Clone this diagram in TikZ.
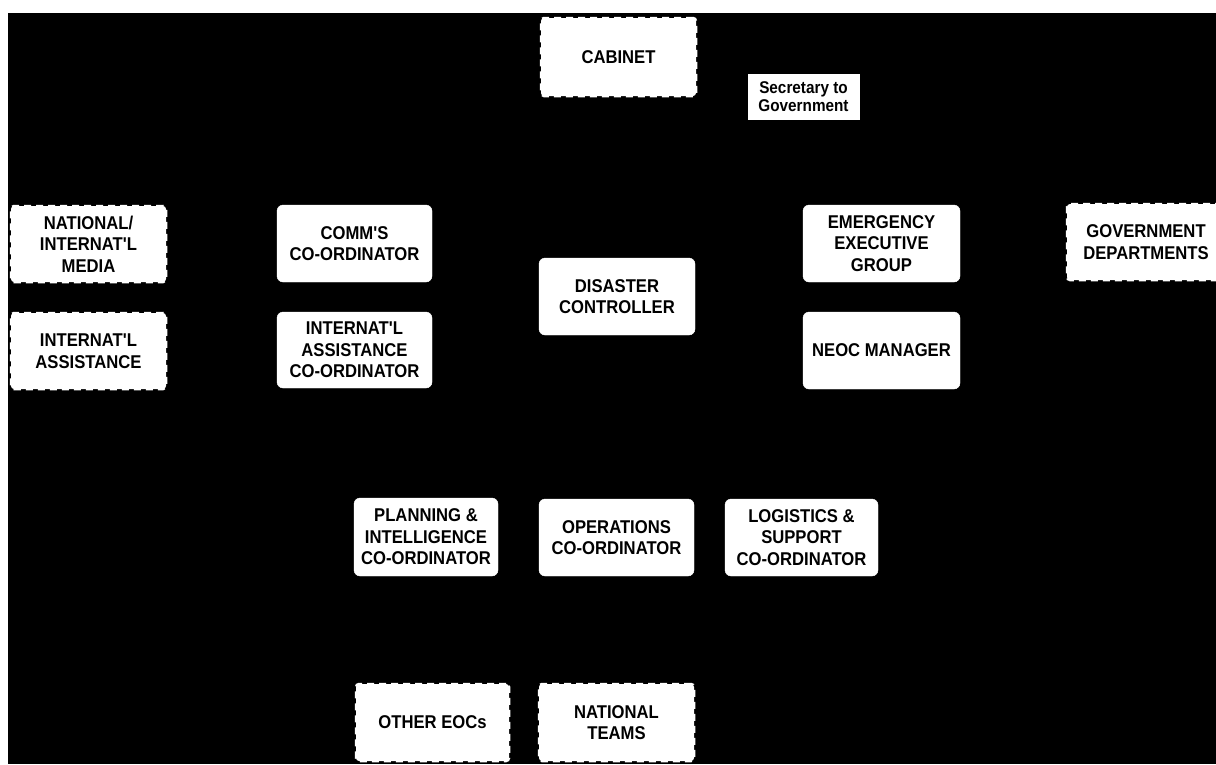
\documentclass[tikz,border=0pt]{standalone}
\usepackage{fontspec}
\setmainfont{Liberation Sans}
\newfontfamily\boxfont[FakeStretch=0.9]{Liberation Sans Bold}
\begin{document}
\begin{tikzpicture}[x=1pt,y=-1pt,
  solidbox/.style={fill=white, draw=white, rounded corners=6pt, align=center,
    font=\boxfont\fontsize{18.5}{21.5}\selectfont, inner sep=0pt, text=black},
  dashbox/.style={fill=white, draw=white, line width=2.5pt, dash pattern=on 7pt off 5pt,
    rounded corners=3pt, align=center,
    font=\boxfont\fontsize{18.5}{21.5}\selectfont, inner sep=0pt, text=black},
  smallbox/.style={fill=white, draw=white, align=center, inner sep=0pt,
    font=\boxfont\fontsize{17}{18}\selectfont, text=black}]
\useasboundingbox (0,0) rectangle (1216,764);
\fill[white] (0,0) rectangle (1216,764);
\fill[black] (8,13) rectangle (1216,764);

\node[dashbox, minimum width=155pt, minimum height=78pt] (cabinet) at (618.5,57) {CABINET};
\node[smallbox, minimum width=111pt, minimum height=45pt] (sec) at (803.5,96.5) {Secretary to\\Government};

\node[dashbox, minimum width=155pt, minimum height=76pt] (media) at (88.5,244) {NATIONAL/\\INTERNAT'L\\MEDIA};
\node[dashbox, minimum width=155pt, minimum height=76pt] (intassist) at (88.5,351) {INTERNAT'L\\ASSISTANCE};

\node[solidbox, minimum width=155pt, minimum height=77pt] (comms) at (354.5,243.5) {COMM'S\\CO-ORDINATOR};
\node[solidbox, minimum width=155pt, minimum height=76pt] (iac) at (354.5,350) {INTERNAT'L\\ASSISTANCE\\CO-ORDINATOR};

\node[solidbox, minimum width=157pt, minimum height=77pt] (eeg) at (881.5,243.5) {EMERGENCY\\EXECUTIVE\\GROUP};
\node[solidbox, minimum width=157pt, minimum height=77pt] (neoc) at (881.5,350.5) {NEOC MANAGER};

\node[dashbox, minimum width=158pt, minimum height=76pt] (govdep) at (1146,242) {GOVERNMENT\\DEPARTMENTS};

\node[solidbox, minimum width=156pt, minimum height=77pt] (disaster) at (617,296.5) {DISASTER\\CONTROLLER};

\node[solidbox, minimum width=144pt, minimum height=78pt] (planning) at (426,537) {PLANNING \&\\INTELLIGENCE\\CO-ORDINATOR};
\node[solidbox, minimum width=155pt, minimum height=77pt] (operations) at (616.5,537.5) {OPERATIONS\\CO-ORDINATOR};
\node[solidbox, minimum width=153pt, minimum height=77pt] (logistics) at (801.5,537.5) {LOGISTICS \&\\SUPPORT\\CO-ORDINATOR};

\node[dashbox, minimum width=153pt, minimum height=77pt] (othereocs) at (432.5,722.5) {OTHER EOCs};
\node[dashbox, minimum width=155pt, minimum height=77pt] (natteams) at (616.5,722.5) {NATIONAL\\TEAMS};
\end{tikzpicture}
\end{document}
